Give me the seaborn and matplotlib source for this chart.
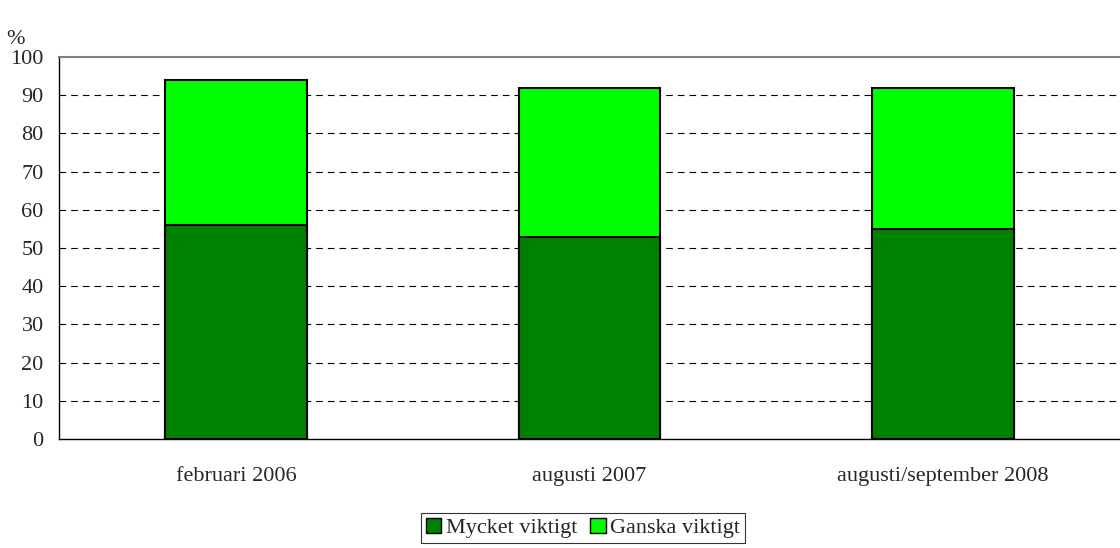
import pandas as pd
import seaborn as sns
import matplotlib.pyplot as plt
from matplotlib.patches import Patch

# survey waves and shares (%)
perioder = ["februari 2006", "augusti 2007", "augusti/september 2008"]
mycket_viktigt = [56, 53, 55]
ganska_viktigt = [38, 39, 37]

df = pd.DataFrame({"period": perioder,
                   "mycket": mycket_viktigt,
                   "ganska": ganska_viktigt})
df["totalt"] = df["mycket"] + df["ganska"]

sns.set_style("white")
plt.rcParams['font.family'] = ['Liberation Serif', 'DejaVu Serif']

fig = plt.figure(figsize=(11.2, 5.48), dpi=100)
ax = fig.add_axes([59 / 1120, 109 / 548, 1 - 59 / 1120, 382 / 548])

dark = "#008000"
light = "#00ff00"
fs = 16

# stacked: draw total first, then the bottom segment on top of it
sns.barplot(data=df, x="period", y="totalt", color=light, saturation=1,
            width=0.4, edgecolor="black", linewidth=1.5, ax=ax, zorder=3)
sns.barplot(data=df, x="period", y="mycket", color=dark, saturation=1,
            width=0.4, edgecolor="black", linewidth=1.5, ax=ax, zorder=3)

ax.set_xlim(-0.5, 2.5)
ax.set_ylim(0, 100)
ax.set_yticks(range(0, 101, 10))
ax.set_xlabel("")
ax.set_ylabel("")

# category labels without ticks, separator ticks between groups
ax.set_xticks([0, 1, 2])
ax.set_xticklabels(perioder)
ax.tick_params(axis="x", which="major", length=0, pad=20, labelsize=fs)
ax.set_xticks([-0.5, 0.5, 1.5, 2.5], minor=True)
ax.tick_params(axis="x", which="minor", length=5, width=0.8, color="black",
               direction="out")
ax.tick_params(axis="y", length=5, width=0.8, color="black", direction="out",
               labelsize=fs, pad=6)

for y in range(10, 100, 10):
    ax.axhline(y, color="black", linewidth=0.8, linestyle=(0, (6, 4.5)), zorder=1)

ax.spines["left"].set_color("black")
ax.spines["left"].set_linewidth(1.0)
ax.spines["bottom"].set_color("black")
ax.spines["bottom"].set_linewidth(1.0)
ax.spines["top"].set_color("#808080")
ax.spines["top"].set_linewidth(1.5)
ax.spines["right"].set_visible(False)

fig.text(6 / 1120, 1 - 40 / 548, "%", fontsize=fs, va="center", ha="left")

handles = [Patch(facecolor=dark, edgecolor="black", label="Mycket viktigt"),
           Patch(facecolor=light, edgecolor="black", label="Ganska viktigt")]
leg = fig.legend(handles=handles, loc="center", bbox_to_anchor=(583 / 1120, 1 - 528 / 548),
                 ncol=2, frameon=True, fancybox=False, fontsize=fs,
                 handlelength=0.7, handleheight=0.7, handletextpad=0.2,
                 columnspacing=0.6, borderpad=0.2, borderaxespad=0)
leg.get_frame().set_edgecolor("black")
leg.get_frame().set_linewidth(0.8)

fig.savefig("out.png", dpi=100)
